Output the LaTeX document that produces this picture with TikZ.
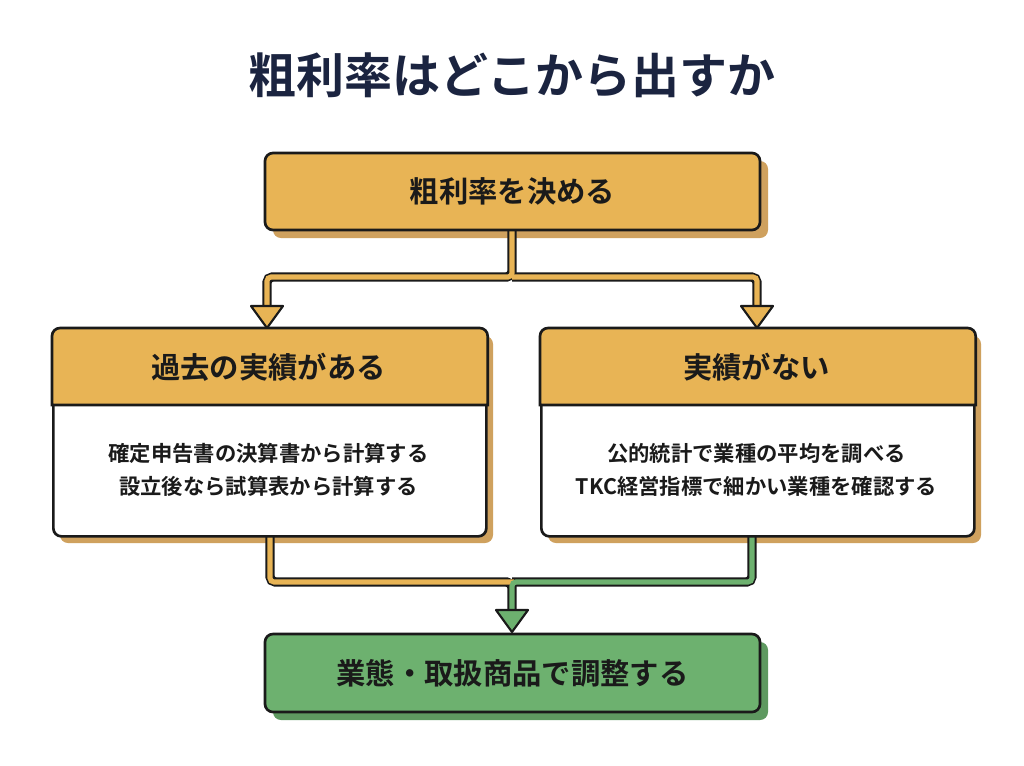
\documentclass[tikz,border=0pt]{standalone}
\usepackage{fontspec}
\setmainfont{Noto Sans CJK JP}[BoldFont={* Bold}]
\definecolor{gold}{HTML}{E8B455}
\definecolor{goldsh}{HTML}{CFA15E}
\definecolor{grn}{HTML}{6DB16F}
\definecolor{grnsh}{HTML}{5E9960}
\definecolor{navy}{HTML}{1B2440}
\definecolor{ink}{HTML}{1A1A1A}
\begin{document}
\begin{tikzpicture}[x=0.75pt,y=-0.75pt,
  box/.style={draw=ink,line width=2pt,rounded corners=6pt,inner sep=0pt},
  sh/.style={rounded corners=6pt},
  pipeo/.style={draw=ink,line width=7pt,rounded corners=4pt},
  pipei/.style={line width=3.8pt,rounded corners=3pt},
  head/.style={draw=ink,line width=1.6pt,line join=round},
  ttl/.style={font=\bfseries\fontsize{22}{26}\selectfont,text=ink},
  bdy/.style={font=\bfseries\fontsize{16}{25}\selectfont,text=ink,align=center}]
\useasboundingbox (0,0) rectangle (1024,765);
\fill[white] (0,0) rectangle (1024,765);
\node[font=\bfseries\fontsize{36}{40}\selectfont,text=navy] (title) at (512,75) {粗利率はどこから出すか};
% shadows
\fill[goldsh,sh] (273,161) rectangle (768,238);
\fill[goldsh,sh] (60,336) rectangle (493,543);
\fill[goldsh,sh] (548,336) rectangle (981,543);
\fill[grnsh,sh] (273,642) rectangle (768,720);
% connectors top
\coordinate (t0) at (512,230);
\coordinate (lb) at (267,310);
\coordinate (rb) at (757,310);
\draw[pipeo] (t0) -- (512,277) -| (lb);
\draw[pipeo] (512,277) -| (rb);
\draw[pipei,gold] (t0) -- (512,277) -| (lb);
\draw[pipei,gold] (512,277) -| (rb);
\fill[gold,head] (251,306) -- (283,306) -- (267,328) -- cycle;
\fill[gold,head] (741,306) -- (773,306) -- (757,328) -- cycle;
% connectors bottom
\coordinate (bl) at (270,535);
\coordinate (br) at (752,535);
\coordinate (bm) at (512,612);
\draw[pipeo] (bl) |- (512,582) -- (bm);
\draw[pipeo] (br) |- (512,582);
\draw[pipei,gold] (bl) |- (514,582);
\draw[pipei,grn] (br) |- (512,582) -- (bm);
\fill[grn,head] (496,610) -- (528,610) -- (512,632) -- cycle;
% boxes
\node[box,fill=gold,minimum width=495*0.75pt,minimum height=77*0.75pt,ttl] (top) at (512.5,191.5) {粗利率を決める};
\node[box,fill=white,minimum width=433*0.75pt,minimum height=207*0.75pt,anchor=north west] (L) at (52,328) {};
\node[box,fill=white,minimum width=433*0.75pt,minimum height=207*0.75pt,anchor=north west] (R) at (540,328) {};
\draw[box,fill=gold,sharp corners] ([yshift=-77*0.75pt]L.north west) -- ([yshift=-6pt]L.north west) arc(180:90:6pt) -- ([xshift=-6pt]L.north east) arc(90:0:6pt) -- ([yshift=-77*0.75pt]L.north east) -- cycle;
\draw[box,fill=gold,sharp corners] ([yshift=-77*0.75pt]R.north west) -- ([yshift=-6pt]R.north west) arc(180:90:6pt) -- ([xshift=-6pt]R.north east) arc(90:0:6pt) -- ([yshift=-77*0.75pt]R.north east) -- cycle;
\node[ttl] (Lh) at (268.5,367) {過去の実績がある};
\node[ttl] (Rh) at (756.5,367) {実績がない};
\node[bdy] (Lb) at (268.5,470) {確定申告書の決算書から計算する\\設立後なら試算表から計算する};
\node[bdy] (Rb) at (756.5,470) {公的統計で業種の平均を調べる\\TKC経営指標で細かい業種を確認する};
\node[box,fill=grn,minimum width=495*0.75pt,minimum height=78*0.75pt,ttl] (bot) at (512.5,673) {業態・取扱商品で調整する};
\end{tikzpicture}
\end{document}
